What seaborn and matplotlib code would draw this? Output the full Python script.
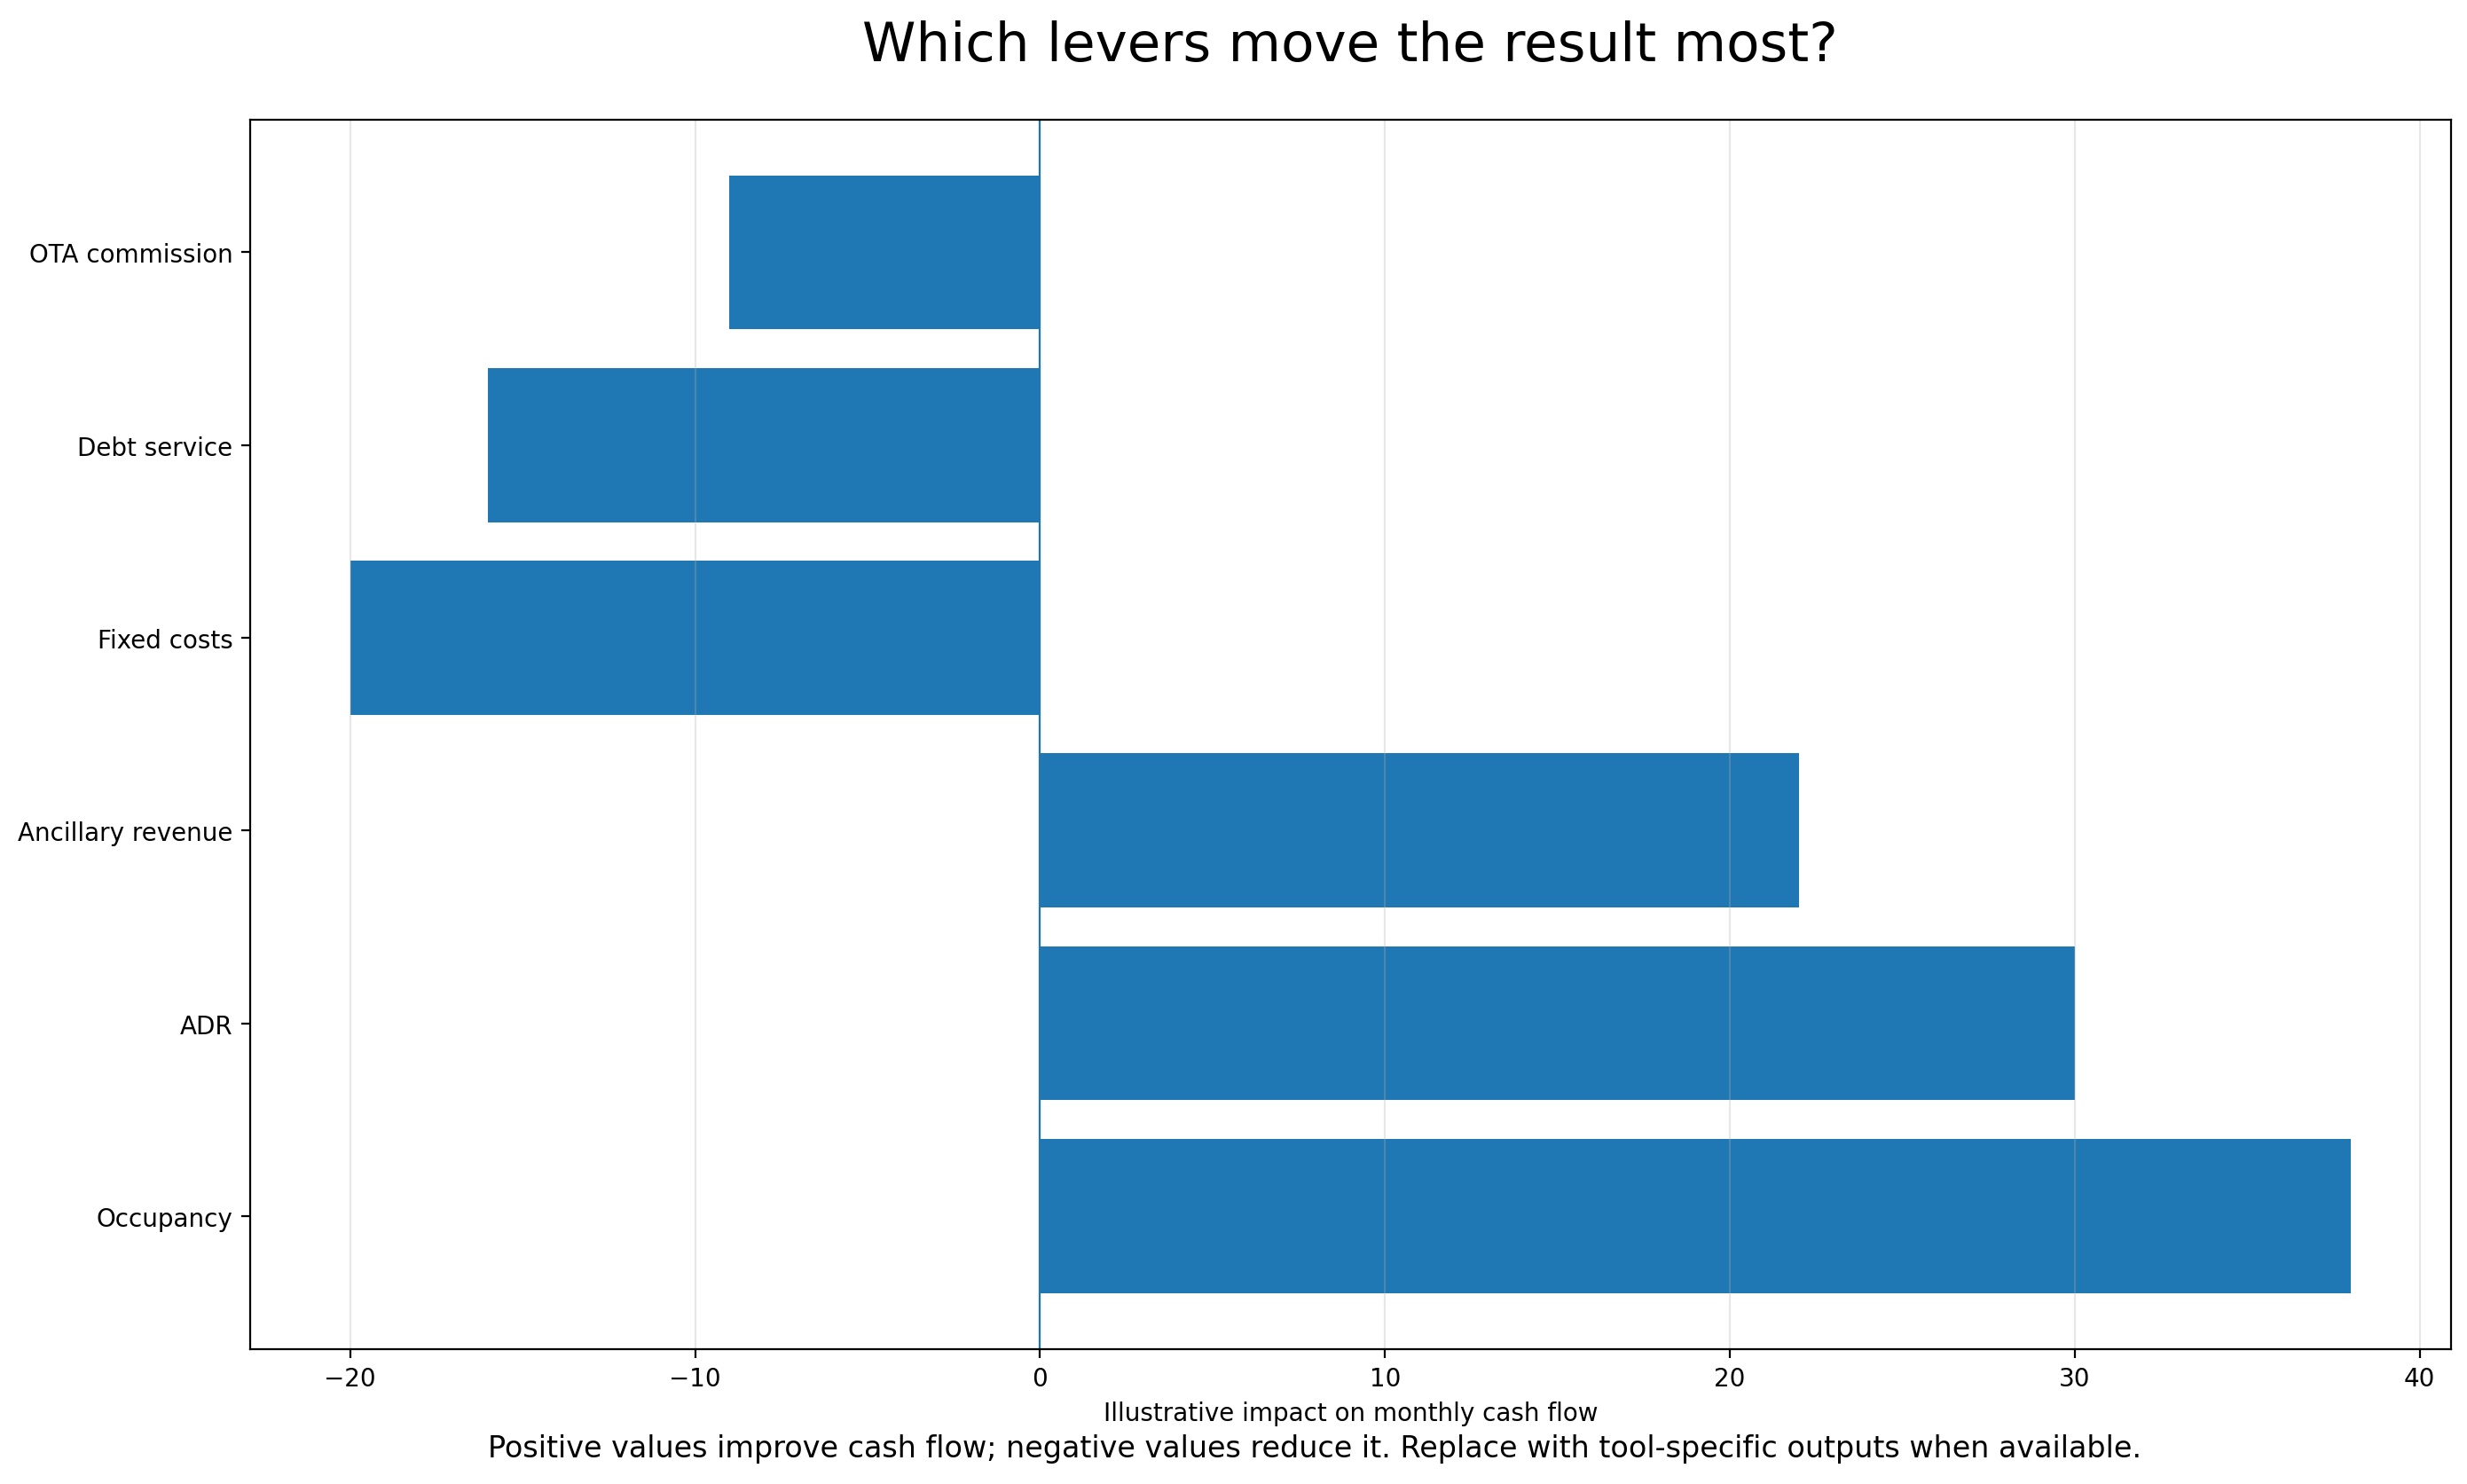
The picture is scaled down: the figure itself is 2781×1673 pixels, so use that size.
import pandas as pd
import seaborn as sns
import matplotlib.pyplot as plt

# levers, listed top to bottom as they appear on the chart
levers = ["OTA commission", "Debt service", "Fixed costs",
          "Ancillary revenue", "ADR", "Occupancy"]
impact = [-9, -16, -20, 22, 30, 38]

df = pd.DataFrame({"lever": levers, "impact": impact})

fig = plt.figure(figsize=(13.905, 8.37), dpi=200)
ax = fig.add_axes([0.1014, 0.091, 0.8920, 0.828])

sns.barplot(data=df, x="impact", y="lever", order=levers, orient="h",
            color="#1f77b4", saturation=1, width=0.8, ax=ax)

# same spacing as plain matplotlib barh (margins on the category axis)
ax.set_ylim(len(levers) - 1 + 0.69, -0.69)

ax.axvline(0, color="#1f77b4", linewidth=0.8)
ax.grid(axis="x", alpha=0.3)
ax.set_ylabel("")
ax.set_xlabel("Illustrative impact on monthly cash flow")
ax.set_title("Which levers move the result most?", fontsize=22, pad=24)

fig.text(0.533, 0.0185,
         "Positive values improve cash flow; negative values reduce it. "
         "Replace with tool-specific outputs when available.",
         ha="center", va="baseline", fontsize=12)

plt.savefig("out.png", dpi=200)
